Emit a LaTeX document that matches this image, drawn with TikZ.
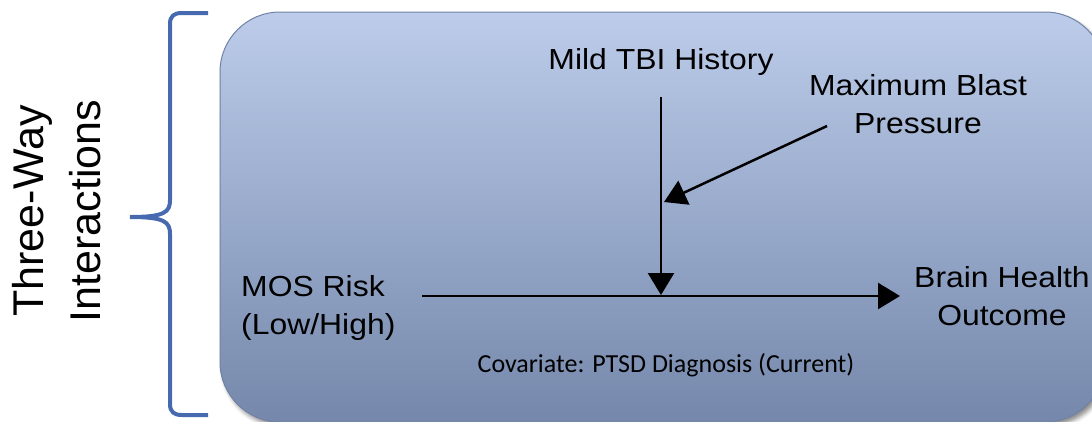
\documentclass[tikz,border=0pt]{standalone}
\usepackage{fontspec}
\setmainfont{Liberation Sans}
\newfontfamily\calibrifont{Carlito}
\usetikzlibrary{arrows.meta,shadows.blur}
\definecolor{boxtop}{RGB}{188,204,234}
\definecolor{boxbot}{RGB}{117,136,171}
\definecolor{boxline}{RGB}{112,130,165}
\definecolor{bracecol}{RGB}{70,105,175}
\newcommand{\sx}[1]{\scalebox{1.1}[1]{#1}}
\begin{document}
\begin{tikzpicture}[x=1pt,y=-1pt,
  lbl/.style={inner sep=0pt, font=\fontsize{29}{38}\selectfont, align=center},
  conn/.style={line width=2.5pt, -{Triangle[length=22pt,width=26pt]}},
  bracestyle/.style={draw=bracecol, line width=4pt}]
\useasboundingbox (0,0) rectangle (1092,421);
\node[draw=boxline, line width=1pt, top color=boxtop, bottom color=boxbot,
      rounded corners=60pt, minimum width=885pt, minimum height=410pt, inner sep=0pt,
      blur shadow={shadow xshift=3pt, shadow yshift=-4pt, shadow blur radius=4pt, shadow opacity=45}]
      (panel) at (662.5,217) {};
% brace
\draw[bracestyle] (208,13) -- (182,13) .. controls (174,13) and (170,16) .. (170,24)
  -- (170,200) .. controls (170,212) and (165,217) .. (130,217)
  .. controls (165,217) and (170,222) .. (170,234)
  -- (170,404) .. controls (170,412) and (174,415) .. (182,415) -- (208,415);
\node[rotate=90, font=\fontsize{43}{57}\selectfont, align=center, inner sep=0pt] (three) at (57,211) {Three-Way\\Interactions};
% labels
\node[lbl, anchor=north] (mild) at (661,48) {\sx{Mild TBI History}};
\node[lbl, anchor=north] (blast) at (918,74) {\sx{Maximum Blast}\\\sx{Pressure}};
\node[lbl, anchor=north west, align=left] (mos) at (241,275) {\sx{MOS Risk}\\\sx{(Low/High)}};
\node[lbl, anchor=north] (brain) at (1002,266) {\sx{Brain Health}\\\sx{Outcome}};
\node[inner sep=0pt, anchor=base, font=\calibrifont\fontsize{26}{30}\selectfont] (cov) at (666,372) {Covariate: PTSD Diagnosis (Current)};
% connectors
\coordinate (vtop) at (661,97);
\coordinate (vend) at (661,295);
\coordinate (hstart) at (422,296);
\coordinate (hend) at (900,296);
\coordinate (dstart) at (827,126);
\coordinate (dend) at (664,202);
\draw[conn] (vtop) -- (vend);
\draw[conn] (hstart) -- (hend);
\draw[conn] (dstart) -- (dend);
\end{tikzpicture}
\end{document}
